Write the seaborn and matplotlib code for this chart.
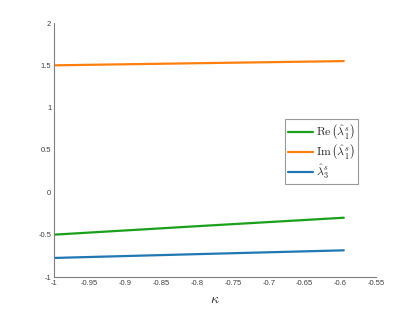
import numpy as np
import pandas as pd
import matplotlib
matplotlib.use('Agg')
import matplotlib.pyplot as plt
import seaborn as sns

# values
kappa = [-1.0, -0.8, -0.595]
re_lam1 = [-0.50, -0.40, -0.30]
im_lam1 = [1.50, 1.525, 1.55]
lam3 = [-0.775, -0.73, -0.685]

labels = [r'$\mathrm{Re}\,\left(\hat{\lambda}_1^s\right)$',
          r'$\mathrm{Im}\,\left(\hat{\lambda}_1^s\right)$',
          r'$\hat{\lambda}_3^s$']
colors = ['#1aa01a', '#ff7f0e', '#1f77b4']

xticks = [-1, -0.95, -0.9, -0.85, -0.8, -0.75, -0.7, -0.65, -0.6, -0.55]
xticklabels = ['-1', '-0.95', '-0.9', '-0.85', '-0.8', '-0.75', '-0.7', '-0.65', '-0.6', '-0.55']
yticks = [-1, -0.5, 0, 0.5, 1, 1.5, 2]
yticklabels = ['-1', '-0.5', '0', '0.5', '1', '1.5', '2']

df = pd.DataFrame({
    'kappa': kappa * 3,
    'value': re_lam1 + im_lam1 + lam3,
    'series': [labels[0]] * 3 + [labels[1]] * 3 + [labels[2]] * 3,
})

sns.set_style('white')
plt.rcParams['mathtext.fontset'] = 'cm'
plt.rcParams['font.family'] = ['Liberation Sans', 'DejaVu Sans']

fig = plt.figure(figsize=(4.15, 3.12), dpi=100)
ax = fig.add_axes([54 / 415, 35 / 312, 322 / 415, 254 / 312])

sns.lineplot(data=df, x='kappa', y='value', hue='series', hue_order=labels,
             palette=colors, linewidth=1.6, ax=ax)

ax.set_xlim(-1, -0.55)
ax.set_ylim(-1, 2)
ax.set_xticks(xticks)
ax.set_xticklabels(xticklabels)
ax.set_yticks(yticks)
ax.set_yticklabels(yticklabels)
ax.tick_params(direction='in', length=3, width=0.6, colors='#808080',
               labelcolor='#404040', labelsize=5.5, pad=2)
for s in ['top', 'right']:
    ax.spines[s].set_visible(False)
for s in ['left', 'bottom']:
    ax.spines[s].set_color('#808080')
    ax.spines[s].set_linewidth(0.8)

ax.set_xlabel(r'$\kappa$', fontsize=10, labelpad=4)
ax.set_ylabel('')

leg = ax.legend(loc='upper left', bbox_to_anchor=(231 / 322, 158 / 254),
                fontsize=8.5, frameon=True, fancybox=False, handlelength=2.1,
                handletextpad=0.3, borderpad=0.25, labelspacing=0.12,
                borderaxespad=0)
leg.get_frame().set_edgecolor('#808080')
leg.get_frame().set_linewidth(0.8)

fig.savefig('out.png', dpi=100)
